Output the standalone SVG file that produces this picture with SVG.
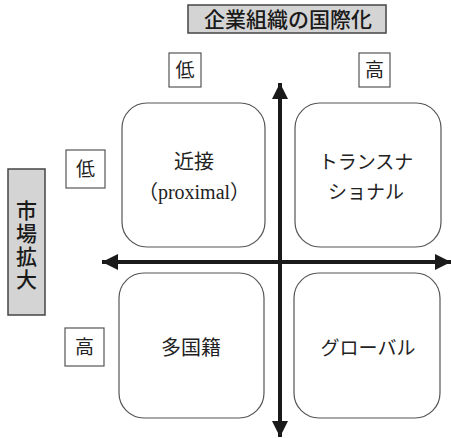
<svg xmlns="http://www.w3.org/2000/svg" width="451" height="438" viewBox="0 0 451 438">
<defs>
<style>
.t{font-family:"Liberation Serif","Noto Sans CJK JP",serif;fill:#222;text-anchor:middle}
.q{fill:#fff;stroke:#555;stroke-width:1.2}
.lb{fill:#fff;stroke:#555;stroke-width:1.2}
.hd{fill:#d4d4d4;stroke:#444;stroke-width:1.5}
.ht{font-size:21px;font-weight:500;fill:#1a1a1a}
.ax{stroke:#1a1a1a;stroke-width:4;fill:none}
</style>
<marker id="ah" viewBox="0 0 10 10" refX="10" refY="5" markerWidth="4" markerHeight="6.5" orient="auto" markerUnits="strokeWidth">
<path d="M0,0 L10,5 L0,10 Z" fill="#1a1a1a"/>
</marker>
</defs>
<g id="title">
<rect class="hd" x="188" y="5" width="198" height="28"/>
<text class="t ht" x="288" y="27">企業組織の国際化</text>
</g>
<g id="side-title">
<rect class="hd" x="8" y="169" width="37" height="146"/>
<text class="t ht" x="26.5" y="218">市</text>
<text class="t ht" x="26.5" y="241">場</text>
<text class="t ht" x="26.5" y="264">拡</text>
<text class="t ht" x="26.5" y="287">大</text>
</g>
<g id="col-low">
<rect class="lb" x="169" y="53" width="32" height="34"/>
<text class="t" x="185" y="77" font-size="19">低</text>
</g>
<g id="col-high">
<rect class="lb" x="359" y="53" width="31" height="34"/>
<text class="t" x="374.5" y="77" font-size="19">高</text>
</g>
<g id="row-low">
<rect class="lb" x="66" y="150" width="39" height="38"/>
<text class="t" x="85.5" y="176" font-size="19">低</text>
</g>
<g id="row-high">
<rect class="lb" x="65" y="328" width="39" height="38"/>
<text class="t" x="84.5" y="354" font-size="19">高</text>
</g>
<g id="connectors">
<line class="ax" x1="280" y1="430" x2="280" y2="83" marker-end="url(#ah)"/>
<line class="ax" x1="280" y1="100" x2="280" y2="437" marker-end="url(#ah)"/>
<line class="ax" x1="442" y1="262" x2="102" y2="262" marker-end="url(#ah)"/>
<line class="ax" x1="110" y1="262" x2="451" y2="262" marker-end="url(#ah)"/>
</g>
<g id="proximal">
<rect class="q" x="122" y="103" width="143" height="144" rx="25"/>
<text class="t" x="194" y="169" font-size="20">近接</text>
<text class="t" x="194" y="199" font-size="20">（proximal）</text>
</g>
<g id="transnational">
<rect class="q" x="295" y="103" width="146" height="144" rx="25"/>
<text class="t" x="366" y="169" font-size="19">トランスナ</text>
<text class="t" x="366" y="199" font-size="19">ショナル</text>
</g>
<g id="multinational">
<rect class="q" x="119" y="273" width="145" height="145" rx="25"/>
<text class="t" x="191" y="355" font-size="20">多国籍</text>
</g>
<g id="global">
<rect class="q" x="294" y="273" width="146" height="145" rx="25"/>
<text class="t" x="368" y="355" font-size="19">グローバル</text>
</g>
</svg>
